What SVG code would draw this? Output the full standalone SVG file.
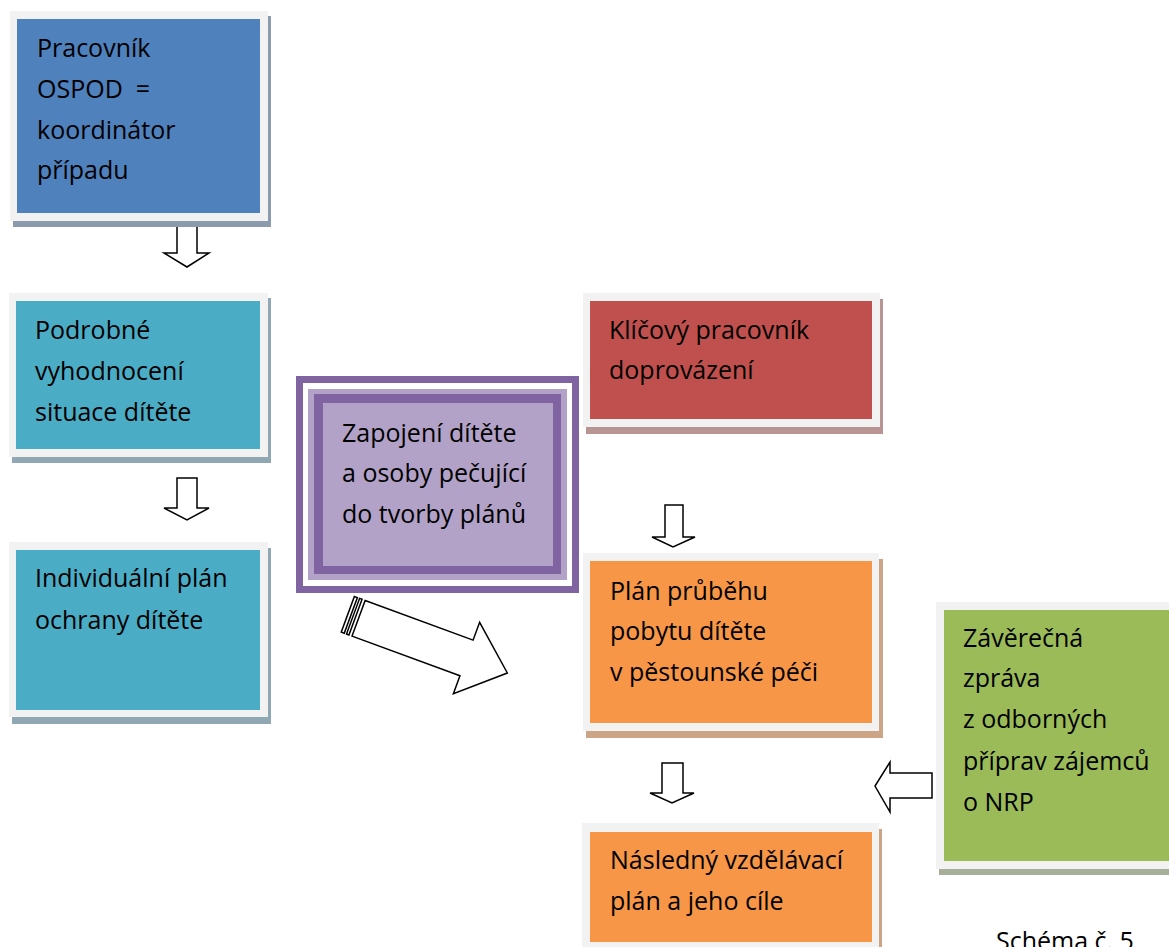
<svg xmlns="http://www.w3.org/2000/svg" width="1169" height="947" viewBox="0 0 1169 947">
<style>
.t{font-family:"Open Sans","Liberation Sans",sans-serif;font-size:25px;fill:#000}
.fr{fill:#F2F2F2}
.ar{fill:#fff;stroke:#000;stroke-width:1.5;stroke-linejoin:miter}
</style>
<rect width="1169" height="947" fill="#fff"/>
<g id="connectors">
<path class="ar" d="M177,226 H197 V253 H209 L187,267 L164,253 H177 Z"/>
<path class="ar" d="M177,478 H197 V508 H209 L187,520 L164,508 H177 Z"/>
<path class="ar" d="M665,505 H683 V537 H695 L673,547 L652,537 H665 Z"/>
<path class="ar" d="M662,763 H683 V793 H694 L672,803 L650,793 H662 Z"/>
<path class="ar" d="M932,773 V798 H890 V812 L875,786 L890,762 V773 Z"/>
<g transform="translate(347.8,614.3) rotate(20.2)">
<path class="ar" d="M11.5,-19 H126.5 V-38 L170,0 L126.5,38 V19 H11.5 Z"/>
<rect class="ar" x="0" y="-19" width="3.2" height="38" stroke-width="1.2"/>
<rect class="ar" x="5.6" y="-19" width="2.6" height="38" stroke-width="1.2"/>
</g>
</g>
<g id="n1">
<rect x="13" y="16" width="258" height="211" fill="#8C9AAE"/>
<rect class="fr" x="10" y="11" width="258" height="210"/>
<rect x="17" y="19" width="243" height="194" fill="#4F81BD"/>
<text class="t" x="37" y="57">Pracovník</text>
<text class="t" x="37" y="98" xml:space="preserve">OSPOD  =</text>
<text class="t" x="37" y="139">koordinátor</text>
<text class="t" x="37" y="179">případu</text>
</g>
<g id="n2">
<rect x="12" y="298" width="259" height="165" fill="#8FA8B4"/>
<rect class="fr" x="9" y="293" width="259" height="164"/>
<rect x="16" y="301" width="244" height="148" fill="#4BACC6"/>
<text class="t" x="35" y="339">Podrobné</text>
<text class="t" x="35" y="380">vyhodnocení</text>
<text class="t" x="35" y="421">situace dítěte</text>
</g>
<g id="n3">
<rect x="12" y="548" width="259" height="176" fill="#8FA8B4"/>
<rect class="fr" x="9" y="542" width="259" height="175"/>
<rect x="16" y="550" width="244" height="160" fill="#4BACC6"/>
<text class="t" x="35" y="587">Individuální plán</text>
<text class="t" x="35" y="629">ochrany dítěte</text>
</g>
<g id="n4">
<rect x="296" y="376" width="283" height="217" fill="#8064A2"/>
<rect x="303" y="383" width="269" height="203" fill="#fff"/>
<rect x="308" y="389" width="259" height="191" fill="#B3A2C7"/>
<rect x="314" y="394" width="247" height="180" fill="#8064A2"/>
<rect x="323" y="403" width="230" height="163" fill="#B3A2C7"/>
<text class="t" x="342" y="442">Zapojení dítěte</text>
<text class="t" x="342" y="482">a osoby pečující</text>
<text class="t" x="342" y="523">do tvorby plánů</text>
</g>
<g id="n5">
<rect x="586" y="299" width="297" height="135" fill="#B89593"/>
<rect class="fr" x="583" y="293" width="297" height="134"/>
<rect x="590" y="301" width="282" height="118" fill="#C0504D"/>
<text class="t" x="609" y="339">Klíčový pracovník</text>
<text class="t" x="609" y="379">doprovázení</text>
</g>
<g id="n6">
<rect x="586" y="559" width="297" height="179" fill="#CBA585"/>
<rect class="fr" x="583" y="553" width="296" height="178"/>
<rect x="590" y="561" width="282" height="162" fill="#F79646"/>
<text class="t" x="610" y="600">Plán průběhu</text>
<text class="t" x="610" y="640">pobytu dítěte</text>
<text class="t" x="610" y="681">v pěstounské péči</text>
</g>
<g id="n7">
<rect x="585" y="829" width="297" height="130" fill="#CBA585"/>
<rect class="fr" x="582" y="823" width="297" height="130"/>
<rect x="590" y="832" width="282" height="110" fill="#F79646"/>
<text class="t" x="610" y="869">Následný vzdělávací</text>
<text class="t" x="610" y="910">plán a jeho cíle</text>
</g>
<g id="n8">
<rect x="939" y="608" width="240" height="267" fill="#A8AF98"/>
<rect class="fr" x="936" y="602" width="240" height="267"/>
<rect x="944" y="610" width="230" height="251" fill="#9BBB59"/>
<text class="t" x="963" y="647">Závěrečná</text>
<text class="t" x="963" y="687">zpráva</text>
<text class="t" x="963" y="728">z odborných</text>
<text class="t" x="963" y="770">příprav zájemců</text>
<text class="t" x="963" y="811">o NRP</text>
</g>
<text class="t" x="996" y="950">Schéma č. 5</text>
</svg>
